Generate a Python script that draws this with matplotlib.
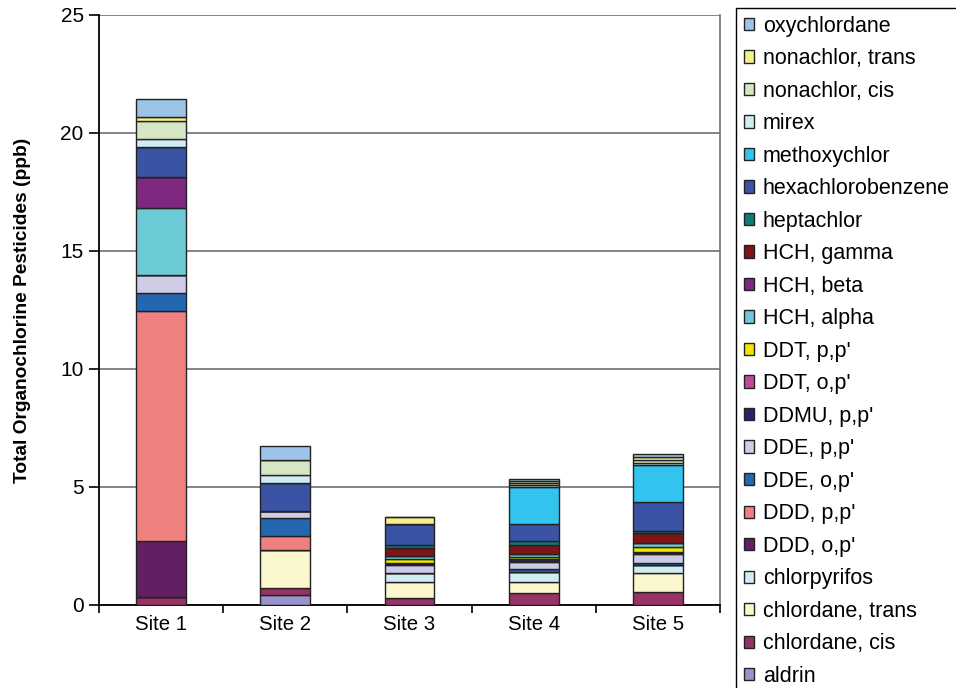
import numpy as np
import matplotlib.pyplot as plt
from matplotlib.patches import Patch

plt.rcParams['font.family'] = ['Liberation Sans', 'DejaVu Sans']

sites = ["Site 1", "Site 2", "Site 3", "Site 4", "Site 5"]

# stacked from bottom to top
compounds = [
    "aldrin", "chlordane, cis", "chlordane, trans", "chlorpyrifos",
    "DDD, o,p'", "DDD, p,p'", "DDE, o,p'", "DDE, p,p'", "DDMU, p,p'",
    "DDT, o,p'", "DDT, p,p'", "HCH, alpha", "HCH, beta", "HCH, gamma",
    "heptachlor", "hexachlorobenzene", "methoxychlor", "mirex",
    "nonachlor, cis", "nonachlor, trans", "oxychlordane",
]
colors = [
    "#9694c8", "#983166", "#fbf8ce", "#d2ecf4",
    "#631f63", "#f08080", "#2566b0", "#cecbe6", "#26246b",
    "#c04a9a", "#f2e600", "#6bcad6", "#7e2880", "#7f1416",
    "#0e7b75", "#3a53a4", "#33c3ef", "#d1ecf3",
    "#d4e6c4", "#f5f08c", "#9dc3e6",
]

aldrin            = [0.00, 0.42, 0.00, 0.00, 0.00]
chlordane_cis     = [0.35, 0.30, 0.31, 0.49, 0.56]
chlordane_trans   = [0.00, 1.63, 0.68, 0.48, 0.78]
chlorpyrifos      = [0.00, 0.00, 0.35, 0.43, 0.35]
ddd_op            = [2.36, 0.00, 0.00, 0.00, 0.00]
ddd_pp            = [9.76, 0.59, 0.00, 0.00, 0.00]
dde_op            = [0.74, 0.75, 0.00, 0.14, 0.11]
dde_pp            = [0.77, 0.28, 0.34, 0.30, 0.37]
ddmu_pp           = [0.00, 0.00, 0.11, 0.10, 0.08]
ddt_op            = [0.00, 0.00, 0.00, 0.00, 0.00]
ddt_pp            = [0.00, 0.00, 0.14, 0.11, 0.22]
hch_alpha         = [2.83, 0.00, 0.14, 0.12, 0.17]
hch_beta          = [1.31, 0.00, 0.00, 0.00, 0.00]
hch_gamma         = [0.00, 0.00, 0.35, 0.39, 0.40]
heptachlor        = [0.00, 0.00, 0.11, 0.15, 0.10]
hexachlorobenzene = [1.27, 1.21, 0.89, 0.73, 1.21]
methoxychlor      = [0.00, 0.00, 0.00, 1.58, 1.58]
mirex             = [0.36, 0.31, 0.00, 0.05, 0.10]
nonachlor_cis     = [0.76, 0.65, 0.00, 0.10, 0.10]
nonachlor_trans   = [0.17, 0.00, 0.32, 0.10, 0.15]
oxychlordane      = [0.76, 0.60, 0.00, 0.08, 0.12]

series = [
    aldrin, chlordane_cis, chlordane_trans, chlorpyrifos,
    ddd_op, ddd_pp, dde_op, dde_pp, ddmu_pp,
    ddt_op, ddt_pp, hch_alpha, hch_beta, hch_gamma,
    heptachlor, hexachlorobenzene, methoxychlor, mirex,
    nonachlor_cis, nonachlor_trans, oxychlordane,
]

fig = plt.figure(figsize=(9.56, 6.88), dpi=100)
ax = fig.add_axes([99 / 956, 83 / 688, 621 / 956, 590 / 688])

x = np.arange(len(sites))
bottom = np.zeros(len(sites))
for vals, col in zip(series, colors):
    vals = np.array(vals)
    ax.bar(x, vals, 0.4, bottom=bottom, color=col, edgecolor="#222222",
           linewidth=1.0, zorder=3)
    bottom += vals

ax.set_xlim(-0.5, 4.5)
ax.set_ylim(0, 25)
ax.set_yticks([0, 5, 10, 15, 20, 25])
ax.yaxis.grid(True, color="#707070", linewidth=1.2, zorder=0)
ax.set_xticks(x)
ax.set_xticklabels(sites, fontsize=14.7)
ax.set_xticks(np.arange(-0.5, 5, 1), minor=True)
ax.tick_params(axis="x", which="major", length=0, pad=7)
ax.tick_params(axis="x", which="minor", length=6, width=1.2, direction="out")
ax.tick_params(axis="y", length=7, width=1.2, direction="out", labelsize=15, pad=4)

ax.spines["top"].set_visible(False)
ax.spines["right"].set_color("#707070")
ax.spines["right"].set_linewidth(1.2)
ax.spines["left"].set_linewidth(1.3)
ax.spines["bottom"].set_linewidth(1.3)

ax.set_ylabel("Total Organochlorine Pesticides (ppb)", fontsize=13.8,
              fontweight="bold", labelpad=21)

handles = [Patch(facecolor=c, edgecolor="#222222", linewidth=1.0)
           for c in colors][::-1]
leg = fig.legend(handles, compounds[::-1], loc="upper left",
                 bbox_to_anchor=(736 / 956, 1 - 8 / 688),
                 fontsize=15.5, handlelength=0.5, handleheight=0.5,
                 handletextpad=0.4, labelspacing=0.535, borderpad=0.35,
                 borderaxespad=0, fancybox=False, edgecolor="black",
                 framealpha=1)
leg.get_frame().set_linewidth(1.0)

fig.savefig("out.png", dpi=100)
